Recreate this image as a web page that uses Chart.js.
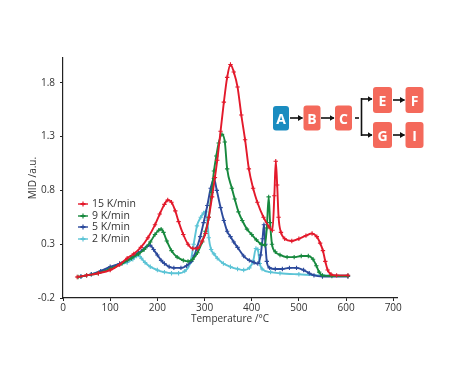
<!DOCTYPE html>
<html><head><meta charset="utf-8">
<script src="https://cdn.jsdelivr.net/npm/chart.js@4/dist/chart.umd.min.js"></script>
<style>
html,body{margin:0;padding:0;background:#fff;}
#wrap{position:relative;width:458px;height:378px;overflow:hidden;}
#c{position:absolute;left:0;top:0;}
#legend{position:absolute;left:77px;top:198px;font:10.5px "Open Sans",sans-serif;color:#333;}
.row{height:11.7px;line-height:11.7px;display:flex;align-items:center;white-space:nowrap;}
.row svg{margin-right:3px;}
#flow{position:absolute;left:0;top:0;}
</style>
</head><body>
<div id="wrap">
<canvas id="c" width="458" height="378"></canvas>
<div id="legend"></div>
<svg id="flow" width="458" height="378" xmlns="http://www.w3.org/2000/svg">
<defs><marker id="ah" markerWidth="5" markerHeight="6" refX="4.5" refY="3" orient="auto" markerUnits="userSpaceOnUse"><path d="M0,0 L5,3 L0,6 z" fill="#111"/></marker></defs>
<g font-family="Open Sans, sans-serif" font-weight="bold" font-size="14" fill="#fff" text-anchor="middle">
<rect x="273" y="106" width="16" height="24.5" rx="3" fill="#1a8cc0"/><text x="281" y="123.5">A</text>
<rect x="303.5" y="105.5" width="17" height="25" rx="3" fill="#f4695b"/><text x="312" y="123.5">B</text>
<rect x="335" y="105.5" width="17" height="25" rx="3" fill="#f4695b"/><text x="343.5" y="123.5">C</text>
<rect x="373" y="87" width="19" height="26" rx="3" fill="#f4695b"/><text x="382.5" y="105.5">E</text>
<rect x="405.5" y="87" width="18" height="26" rx="3" fill="#f4695b"/><text x="414.5" y="105.5">F</text>
<rect x="373" y="122" width="19" height="26" rx="3" fill="#f4695b"/><text x="382.5" y="140.5">G</text>
<rect x="405.5" y="122" width="18" height="26" rx="3" fill="#f4695b"/><text x="414.5" y="140.5">I</text>
</g>
<g stroke="#111" stroke-width="1.6" fill="none">
<line x1="290" y1="118" x2="302.5" y2="118" marker-end="url(#ah)"/>
<line x1="321" y1="118" x2="334" y2="118" marker-end="url(#ah)"/>
<line x1="355" y1="118" x2="359" y2="118"/>
<path d="M361.5,98 L361.5,136"/>
<line x1="361.5" y1="99" x2="372" y2="99" marker-end="url(#ah)"/>
<line x1="361.5" y1="135" x2="372" y2="135" marker-end="url(#ah)"/>
<line x1="393" y1="100" x2="404.5" y2="100" marker-end="url(#ah)"/>
<line x1="393" y1="135" x2="404.5" y2="135" marker-end="url(#ah)"/>
</g>
</svg>
</div>
<script>
// ---- data ----
const seriesNames = ['15 K/min', '9 K/min', '5 K/min', '2 K/min'];
const seriesColors = ['#e3192b', '#17893e', '#2c4a9c', '#5cc4d6'];

const tempRed = [30,50,75,100,120,136,150,165,180,195,205,215,222,230,238,245,255,265,275,285,295,302,309,316,322,327,334,341,348,355,362,370,378,386,394,403,412,425,437,444,448,451,454,457,462,470,485,500,515,528,538,545,551,556,561,568,580,604];
const midRed  = [-0.005,0.01,0.03,0.06,0.11,0.17,0.21,0.27,0.36,0.48,0.58,0.67,0.71,0.69,0.61,0.51,0.39,0.30,0.26,0.26,0.33,0.40,0.55,0.74,0.92,1.08,1.35,1.62,1.85,1.97,1.90,1.76,1.50,1.27,1.00,0.82,0.69,0.55,0.46,0.43,0.75,1.07,0.85,0.55,0.41,0.35,0.33,0.35,0.38,0.40,0.37,0.31,0.24,0.14,0.06,0.02,0.01,0.01];

const tempGreen = [32,50,75,100,125,145,160,172,185,195,203,208,213,220,230,242,255,265,275,285,295,302,309,315,320,325,330,337,343,348,358,364,372,380,390,400,410,420,428,432,436,439,443,450,460,475,490,505,520,530,537,543,550,570,604];
const midGreen  = [-0.005,0.01,0.03,0.07,0.12,0.17,0.21,0.25,0.32,0.39,0.43,0.44,0.41,0.33,0.24,0.18,0.15,0.14,0.16,0.22,0.32,0.42,0.55,0.78,0.98,1.12,1.24,1.32,1.25,1.00,0.82,0.72,0.60,0.52,0.44,0.39,0.34,0.30,0.29,0.45,0.74,0.50,0.30,0.23,0.20,0.18,0.18,0.19,0.19,0.16,0.10,0.04,0.01,0.005,0.005];

const tempBlue = [38,60,80,100,120,136,150,160,170,178,185,192,200,208,215,225,235,250,262,272,278,284,291,298,306,313,320,326,334,341,348,355,362,370,383,395,405,413,419,423,426,429,432,438,450,465,480,495,510,522,532,550,604];
const midBlue  = [0.0,0.02,0.05,0.09,0.12,0.15,0.19,0.22,0.25,0.28,0.29,0.25,0.20,0.15,0.12,0.09,0.08,0.08,0.10,0.14,0.19,0.27,0.37,0.50,0.66,0.82,0.91,0.80,0.64,0.52,0.42,0.37,0.32,0.27,0.19,0.15,0.13,0.12,0.20,0.35,0.48,0.30,0.14,0.08,0.07,0.07,0.08,0.08,0.06,0.03,0.01,0.0,0.0];

const tempCyan = [38,60,80,100,120,136,148,156,160,166,174,185,200,215,230,245,258,270,277,284,292,298,302,306,309,314,320,327,340,355,370,383,395,403,409,413,417,422,440,460,500,550,604];
const midCyan  = [0.0,0.02,0.05,0.08,0.11,0.13,0.16,0.19,0.20,0.17,0.13,0.09,0.06,0.04,0.03,0.03,0.05,0.13,0.30,0.47,0.55,0.59,0.60,0.52,0.36,0.25,0.21,0.17,0.12,0.09,0.07,0.06,0.08,0.14,0.26,0.25,0.12,0.07,0.04,0.03,0.02,0.01,0.01];

const xTicks = [0,100,200,300,400,500,600,700];
const yTicks = [-0.2,0.3,0.8,1.3,1.8];

const temps = [tempRed, tempGreen, tempBlue, tempCyan];
const mids = [midRed, midGreen, midBlue, midCyan];

const datasets = seriesNames.map((name, i) => ({
  label: name,
  data: temps[i].map((t, k) => ({x: t, y: mids[i][k]})),
  borderColor: seriesColors[i],
  backgroundColor: seriesColors[i],
  borderWidth: 1.9,
  pointStyle: 'cross',
  pointRadius: 2.2,
  pointBorderWidth: 1.1,
  pointBorderColor: seriesColors[i],
  cubicInterpolationMode: 'monotone',
  fill: false
}));

// HTML legend built from the series
const leg = document.getElementById('legend');
seriesNames.forEach((name, i) => {
  const row = document.createElement('div');
  row.className = 'row';
  row.innerHTML = '<svg width="12" height="8"><line x1="1" y1="4" x2="11" y2="4" stroke="' + seriesColors[i] +
    '" stroke-width="1.4"/><line x1="6" y1="1.5" x2="6" y2="6.5" stroke="' + seriesColors[i] +
    '" stroke-width="1.2"/><line x1="3.5" y1="4" x2="8.5" y2="4" stroke="' + seriesColors[i] + '" stroke-width="2"/></svg><span>' + name + '</span>';
  leg.appendChild(row);
});

const tickFont = {family: '"Open Sans", sans-serif', size: 10};
new Chart(document.getElementById('c'), {
  type: 'line',
  data: {datasets},
  options: {
    responsive: false,
    animation: false,
    layout: {padding: {top: 58, right: 61, bottom: 0, left: 0}},
    plugins: {legend: {display: false}, tooltip: {enabled: false}},
    scales: {
      x: {
        type: 'linear', min: 0, max: 708,
        afterBuildTicks: s => { s.ticks = xTicks.map(v => ({value: v})); },
        afterFit: s => { s.height = 80; },
        grid: {display: true, drawOnChartArea: false, drawTicks: true, tickLength: 3, color: '#222'},
        border: {display: true, color: '#222', width: 1.2},
        ticks: {font: tickFont, color: '#333', padding: 1, maxRotation: 0},
        title: {display: true, text: 'Temperature /°C', font: tickFont, color: '#333', padding: {top: 0, bottom: 53}}
      },
      y: {
        type: 'linear', min: -0.2, max: 2.03,
        afterBuildTicks: s => { s.ticks = yTicks.map(v => ({value: v})); },
        afterFit: s => { s.width = 63; },
        grid: {display: true, drawOnChartArea: false, drawTicks: true, tickLength: 3, color: '#222'},
        border: {display: true, color: '#222', width: 1.2},
        ticks: {font: tickFont, color: '#333', padding: 5, callback: v => v.toFixed(1)},
        title: {display: true, text: 'MID /a.u.', font: tickFont, color: '#333', padding: {top: 27, bottom: 0}}
      }
    }
  }
});
</script>
</body></html>
